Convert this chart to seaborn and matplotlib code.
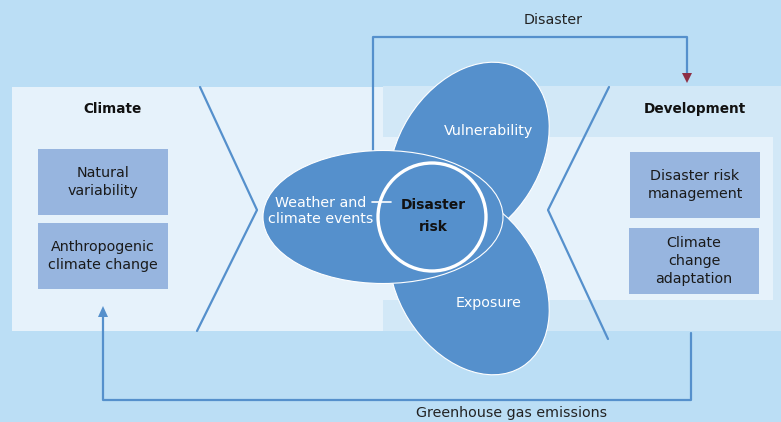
import matplotlib
matplotlib.use("Agg")
import matplotlib.pyplot as plt
import seaborn as sns
from matplotlib.patches import Rectangle, Ellipse, Circle, Polygon

# ---- content -------------------------------------------------------------
PANEL_TITLES = ["Climate", "Development"]
CLIMATE_BOXES = ["Natural\nvariability", "Anthropogenic\nclimate change"]
DEV_BOXES = ["Disaster risk\nmanagement", "Climate\nchange\nadaptation"]
CENTER_LABELS = ["Weather and\nclimate events", "Vulnerability", "Exposure"]
CORE_LABEL = "Disaster\nrisk"
FLOW_LABELS = ["Disaster", "Greenhouse gas emissions"]

BG = "#BBDEF5"
PANEL_LIGHT = "#E6F2FB"
PANEL_MID = "#D2E8F7"
BOX = "#97B5DF"
BLOB = "#5590CC"
LINE = "#5590CC"
ARROW_RED = "#8E2F45"
TXT = "#1a1a1a"
FS = 10.3

sns.set_theme(style="white")
plt.rcParams["font.family"] = ["DejaVu Sans"]

fig = plt.figure(figsize=(7.81, 4.22), dpi=100, facecolor=BG)
ax = fig.add_axes([0, 0, 1, 1])
ax.set_facecolor(BG)
ax.set_xlim(0, 781)
ax.set_ylim(422, 0)
ax.axis("off")


def path(xs, ys, z=2):
    sns.lineplot(x=xs, y=ys, sort=False, estimator=None, errorbar=None,
                 color=LINE, lw=1.6, ax=ax, zorder=z)


# panels
ax.add_patch(Rectangle((12, 87), 371, 244, fc=PANEL_LIGHT, ec="none", zorder=1))
ax.add_patch(Rectangle((383, 86), 398, 245, fc=PANEL_MID, ec="none", zorder=1))
ax.add_patch(Rectangle((383, 137), 390, 163, fc=PANEL_LIGHT, ec="none", zorder=1.1))

# chevrons
path([200, 257, 197], [87, 210, 331])
path([609, 548, 608], [87, 210, 339])

# titles
ax.text(113, 109, PANEL_TITLES[0], ha="center", va="center", fontsize=9.8,
        fontweight="bold", color="#111111", zorder=5)
ax.text(695, 109, PANEL_TITLES[1], ha="center", va="center", fontsize=9.8,
        fontweight="bold", color="#111111", zorder=5)

# boxes
for (x, y, w, h), label in zip([(38, 149, 130, 66), (38, 223, 130, 66)],
                               CLIMATE_BOXES):
    ax.add_patch(Rectangle((x, y), w, h, fc=BOX, ec="none", zorder=3))
    ax.text(x + w / 2, y + h / 2, label, ha="center", va="center",
            fontsize=FS, color=TXT, linespacing=1.4, zorder=5)
for (x, y, w, h), label in zip([(630, 152, 130, 66), (629, 228, 130, 66)],
                               DEV_BOXES):
    ax.add_patch(Rectangle((x, y), w, h, fc=BOX, ec="none", zorder=3))
    ax.text(x + w / 2, y + h / 2, label, ha="center", va="center",
            fontsize=FS, color=TXT, linespacing=1.4, zorder=5)

# central blobs
ax.add_patch(Ellipse((469, 155), 200, 142, angle=-58, fc=BLOB, ec="white",
                     lw=0.8, zorder=3))
ax.add_patch(Ellipse((469, 282), 200, 142, angle=58, fc=BLOB, ec="white",
                     lw=0.8, zorder=3))
ax.add_patch(Ellipse((383, 217), 240, 133, fc=BLOB, ec="white", lw=0.8,
                     zorder=4))
ax.add_patch(Circle((432, 217), 54, fc=BLOB, ec="white", lw=2.4, zorder=4.5))

ax.text(321, 211, CENTER_LABELS[0], ha="center", va="center", fontsize=FS,
        color="white", linespacing=1.15, zorder=5)
ax.text(489, 131, CENTER_LABELS[1], ha="center", va="center", fontsize=FS,
        color="white", zorder=5)
ax.text(489, 303, CENTER_LABELS[2], ha="center", va="center", fontsize=FS,
        color="white", zorder=5)
ax.text(433, 216, CORE_LABEL, ha="center", va="center", fontsize=10,
        fontweight="bold", color="#111111", linespacing=1.65, zorder=6)
ax.plot([372, 391], [202, 202], color="white", lw=1.2, zorder=5)

# disaster feedback (top)
path([373, 373, 687, 687], [152, 37, 37, 74])
ax.add_patch(Polygon([(682, 73), (692, 73), (687, 83)], fc=ARROW_RED,
                     ec="none", zorder=3))
ax.text(553, 20, FLOW_LABELS[0], ha="center", va="center", fontsize=FS,
        color="#222222", zorder=5)

# greenhouse gas feedback (bottom)
path([691, 691, 103, 103], [333, 400, 400, 316])
ax.add_patch(Polygon([(98, 317), (108, 317), (103, 306)], fc=LINE,
                     ec="none", zorder=3))
ax.text(512, 413, FLOW_LABELS[1], ha="center", va="center", fontsize=FS,
        color="#222222", zorder=5)

fig.savefig("out.png", dpi=100, facecolor=BG)
